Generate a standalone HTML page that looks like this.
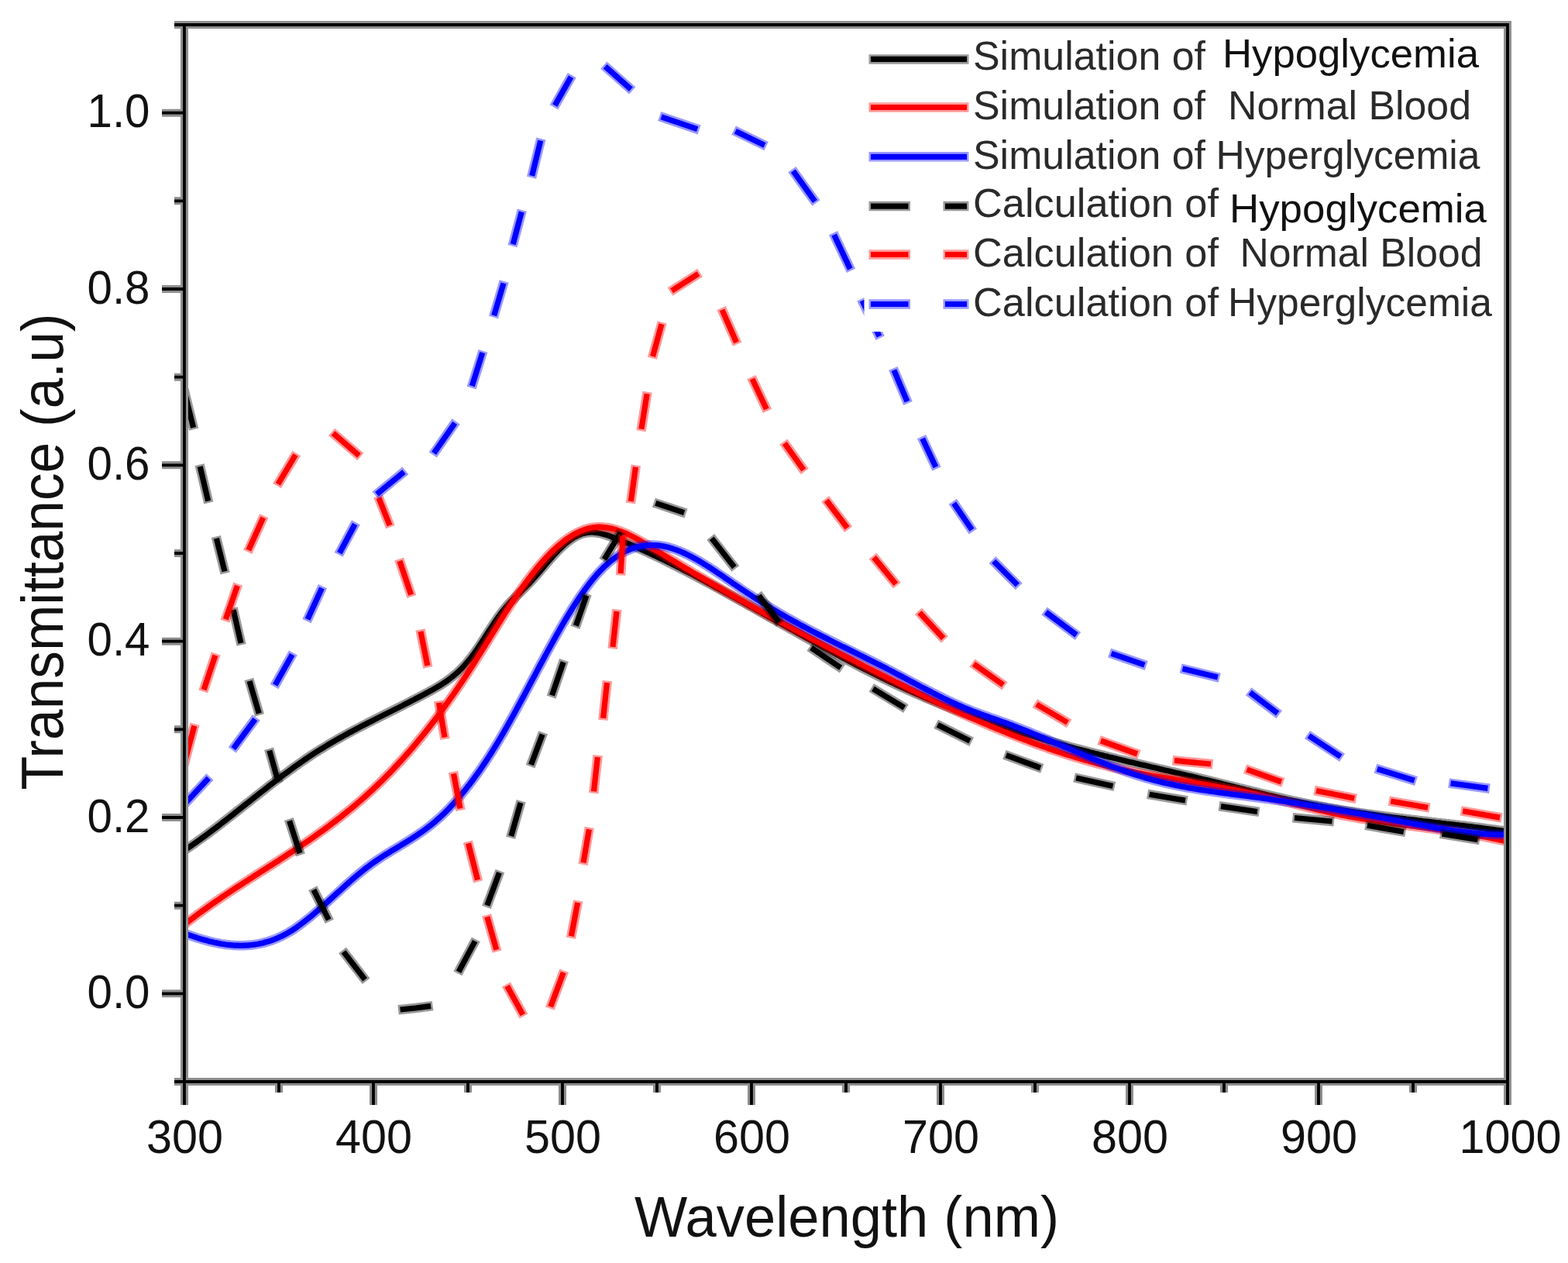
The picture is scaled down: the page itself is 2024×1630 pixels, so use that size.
<!DOCTYPE html><html><head><meta charset="utf-8"><title>Transmittance vs Wavelength</title><style>html,body{margin:0;padding:0;background:#fff;}svg{display:block;}text{font-family:"Liberation Sans",Arial,sans-serif;}</style></head><body>
<svg width="2024" height="1630" viewBox="0 0 2024 1630">
<rect width="2024" height="1630" fill="#fff"/>
<defs><clipPath id="pc"><rect x="238.0" y="32.0" width="1708.0" height="1364.0"/></clipPath></defs>
<g clip-path="url(#pc)" fill="none" stroke-linejoin="round" stroke-linecap="butt">
<path d="M237.5,1097.8 240.5,1095.8 243.5,1093.7 246.5,1091.7 249.5,1089.6 252.5,1087.5 255.5,1085.3 258.5,1083.2 261.5,1081.0 264.5,1078.8 267.5,1076.6 270.5,1074.4 273.5,1072.1 276.5,1069.9 279.5,1067.6 282.5,1065.3 285.5,1063.0 288.5,1060.6 291.5,1058.3 294.5,1056.0 297.5,1053.6 300.5,1051.3 303.5,1048.9 306.5,1046.5 309.5,1044.2 312.5,1041.8 315.5,1039.4 318.5,1037.0 321.5,1034.7 324.5,1032.3 327.5,1029.9 330.5,1027.5 333.5,1025.2 336.5,1022.8 339.5,1020.5 342.5,1018.1 345.5,1015.8 348.5,1013.4 351.5,1011.1 354.5,1008.8 357.5,1006.5 360.5,1004.2 363.5,1002.0 366.5,999.7 369.5,997.5 372.5,995.3 375.5,993.1 378.5,990.9 381.5,988.7 384.5,986.6 387.5,984.5 390.5,982.4 393.5,980.3 396.5,978.3 399.5,976.3 402.5,974.3 405.5,972.3 408.5,970.4 411.5,968.5 414.5,966.6 417.5,964.8 420.5,963.0 423.5,961.2 426.5,959.4 429.5,957.6 432.5,955.9 435.5,954.2 438.5,952.5 441.5,950.8 444.5,949.1 447.5,947.5 450.5,945.8 453.5,944.2 456.5,942.6 459.5,941.0 462.5,939.5 465.5,937.9 468.5,936.3 471.5,934.8 474.5,933.2 477.5,931.7 480.5,930.2 483.5,928.6 486.5,927.1 489.5,925.6 492.5,924.1 495.5,922.6 498.5,921.1 501.5,919.6 504.5,918.1 507.5,916.6 510.5,915.1 513.5,913.6 516.5,912.1 519.5,910.6 522.5,909.0 525.5,907.5 528.5,906.0 531.5,904.4 534.5,902.9 537.5,901.3 540.5,899.8 543.5,898.2 546.5,896.6 549.5,895.0 552.5,893.4 555.5,891.7 558.5,890.1 561.5,888.4 564.5,886.7 567.5,884.9 570.5,883.0 573.5,881.0 576.5,879.0 579.5,876.8 582.5,874.5 585.5,872.1 588.5,869.6 591.5,866.9 594.5,864.0 597.5,860.9 600.5,857.7 603.5,854.2 606.5,850.6 609.5,846.7 612.5,842.6 615.5,838.3 618.5,833.9 621.5,829.3 624.5,824.7 627.5,820.0 630.5,815.3 633.5,810.7 636.5,806.1 639.5,801.6 642.5,797.2 645.5,793.1 648.5,789.1 651.5,785.4 654.5,781.8 657.5,778.5 660.5,775.3 663.5,772.3 666.5,769.3 669.5,766.4 672.5,763.5 675.5,760.5 678.5,757.6 681.5,754.5 684.5,751.4 687.5,748.1 690.5,744.7 693.5,741.3 696.5,737.8 699.5,734.3 702.5,730.7 705.5,727.2 708.5,723.7 711.5,720.3 714.5,716.9 717.5,713.7 720.5,710.5 723.5,707.6 726.5,704.7 729.5,702.1 732.5,699.6 735.5,697.3 738.5,695.2 741.5,693.3 744.5,691.7 747.5,690.3 750.5,689.1 753.5,688.2 756.5,687.6 759.5,687.2 762.5,687.0 765.5,687.0 768.5,687.3 771.5,687.7 774.5,688.2 777.5,688.9 780.5,689.7 783.5,690.7 786.5,691.7 789.5,692.8 792.5,694.0 795.5,695.2 798.5,696.4 801.5,697.6 804.5,698.9 807.5,700.2 810.5,701.4 813.5,702.7 816.5,704.0 819.5,705.4 822.5,706.7 825.5,708.1 828.5,709.4 831.5,710.8 834.5,712.2 837.5,713.6 840.5,715.0 843.5,716.4 846.5,717.8 849.5,719.2 852.5,720.7 855.5,722.1 858.5,723.6 861.5,725.1 864.5,726.6 867.5,728.1 870.5,729.6 873.5,731.1 876.5,732.6 879.5,734.1 882.5,735.7 885.5,737.2 888.5,738.8 891.5,740.4 894.5,741.9 897.5,743.5 900.5,745.1 903.5,746.7 906.5,748.3 909.5,749.9 912.5,751.5 915.5,753.1 918.5,754.7 921.5,756.3 924.5,758.0 927.5,759.6 930.5,761.3 933.5,762.9 936.5,764.6 939.5,766.2 942.5,767.9 945.5,769.5 948.5,771.2 951.5,772.9 954.5,774.5 957.5,776.2 960.5,777.9 963.5,779.6 966.5,781.3 969.5,783.0 972.5,784.6 975.5,786.3 978.5,788.0 981.5,789.7 984.5,791.4 987.5,793.1 990.5,794.8 993.5,796.5 996.5,798.2 999.5,799.9 1002.5,801.6 1005.5,803.3 1008.5,805.0 1011.5,806.7 1014.5,808.4 1017.5,810.1 1020.5,811.8 1023.5,813.4 1026.5,815.1 1029.5,816.8 1032.5,818.5 1035.5,820.2 1038.5,821.9 1041.5,823.5 1044.5,825.2 1047.5,826.9 1050.5,828.5 1053.5,830.2 1056.5,831.9 1059.5,833.5 1062.5,835.2 1065.5,836.8 1068.5,838.4 1071.5,840.1 1074.5,841.7 1077.5,843.3 1080.5,845.0 1083.5,846.6 1086.5,848.2 1089.5,849.8 1092.5,851.4 1095.5,853.0 1098.5,854.5 1101.5,856.1 1104.5,857.7 1107.5,859.2 1110.5,860.8 1113.5,862.3 1116.5,863.9 1119.5,865.4 1122.5,866.9 1125.5,868.4 1128.5,869.9 1131.5,871.4 1134.5,872.9 1137.5,874.4 1140.5,875.8 1143.5,877.3 1146.5,878.7 1149.5,880.2 1152.5,881.6 1155.5,883.0 1158.5,884.4 1161.5,885.8 1164.5,887.2 1167.5,888.5 1170.5,889.9 1173.5,891.2 1176.5,892.6 1179.5,893.9 1182.5,895.2 1185.5,896.5 1188.5,897.8 1191.5,899.1 1194.5,900.4 1197.5,901.7 1200.5,902.9 1203.5,904.2 1206.5,905.4 1209.5,906.6 1212.5,907.9 1215.5,909.1 1218.5,910.3 1221.5,911.5 1224.5,912.7 1227.5,913.8 1230.5,915.0 1233.5,916.2 1236.5,917.3 1239.5,918.5 1242.5,919.6 1245.5,920.7 1248.5,921.8 1251.5,923.0 1254.5,924.1 1257.5,925.1 1260.5,926.2 1263.5,927.3 1266.5,928.4 1269.5,929.4 1272.5,930.5 1275.5,931.5 1278.5,932.6 1281.5,933.6 1284.5,934.6 1287.5,935.6 1290.5,936.6 1293.5,937.6 1296.5,938.6 1299.5,939.6 1302.5,940.6 1305.5,941.6 1308.5,942.5 1311.5,943.5 1314.5,944.4 1317.5,945.4 1320.5,946.3 1323.5,947.2 1326.5,948.2 1329.5,949.1 1332.5,950.0 1335.5,950.9 1338.5,951.8 1341.5,952.7 1344.5,953.6 1347.5,954.4 1350.5,955.3 1353.5,956.2 1356.5,957.0 1359.5,957.9 1362.5,958.8 1365.5,959.6 1368.5,960.4 1371.5,961.3 1374.5,962.1 1377.5,962.9 1380.5,963.7 1383.5,964.5 1386.5,965.4 1389.5,966.2 1392.5,966.9 1395.5,967.7 1398.5,968.5 1401.5,969.3 1404.5,970.1 1407.5,970.9 1410.5,971.6 1413.5,972.4 1416.5,973.1 1419.5,973.9 1422.5,974.6 1425.5,975.4 1428.5,976.1 1431.5,976.9 1434.5,977.6 1437.5,978.3 1440.5,979.1 1443.5,979.8 1446.5,980.5 1449.5,981.2 1452.5,981.9 1455.5,982.7 1458.5,983.4 1461.5,984.1 1464.5,984.8 1467.5,985.5 1470.5,986.2 1473.5,986.9 1476.5,987.6 1479.5,988.3 1482.5,989.0 1485.5,989.7 1488.5,990.4 1491.5,991.1 1494.5,991.8 1497.5,992.5 1500.5,993.2 1503.5,993.9 1506.5,994.6 1509.5,995.3 1512.5,996.0 1515.5,996.7 1518.5,997.4 1521.5,998.1 1524.5,998.8 1527.5,999.5 1530.5,1000.2 1533.5,1000.9 1536.5,1001.6 1539.5,1002.3 1542.5,1003.0 1545.5,1003.7 1548.5,1004.4 1551.5,1005.2 1554.5,1005.9 1557.5,1006.6 1560.5,1007.3 1563.5,1008.1 1566.5,1008.8 1569.5,1009.6 1572.5,1010.3 1575.5,1011.0 1578.5,1011.8 1581.5,1012.5 1584.5,1013.3 1587.5,1014.0 1590.5,1014.7 1593.5,1015.5 1596.5,1016.2 1599.5,1017.0 1602.5,1017.7 1605.5,1018.4 1608.5,1019.2 1611.5,1019.9 1614.5,1020.7 1617.5,1021.4 1620.5,1022.1 1623.5,1022.8 1626.5,1023.6 1629.5,1024.3 1632.5,1025.0 1635.5,1025.7 1638.5,1026.4 1641.5,1027.1 1644.5,1027.8 1647.5,1028.5 1650.5,1029.2 1653.5,1029.9 1656.5,1030.6 1659.5,1031.3 1662.5,1032.0 1665.5,1032.6 1668.5,1033.3 1671.5,1033.9 1674.5,1034.6 1677.5,1035.2 1680.5,1035.9 1683.5,1036.5 1686.5,1037.1 1689.5,1037.7 1692.5,1038.3 1695.5,1038.9 1698.5,1039.5 1701.5,1040.1 1704.5,1040.6 1707.5,1041.2 1710.5,1041.7 1713.5,1042.3 1716.5,1042.8 1719.5,1043.3 1722.5,1043.9 1725.5,1044.4 1728.5,1044.9 1731.5,1045.4 1734.5,1045.9 1737.5,1046.3 1740.5,1046.8 1743.5,1047.3 1746.5,1047.7 1749.5,1048.2 1752.5,1048.6 1755.5,1049.1 1758.5,1049.5 1761.5,1049.9 1764.5,1050.4 1767.5,1050.8 1770.5,1051.2 1773.5,1051.6 1776.5,1052.0 1779.5,1052.4 1782.5,1052.8 1785.5,1053.2 1788.5,1053.6 1791.5,1054.0 1794.5,1054.4 1797.5,1054.8 1800.5,1055.1 1803.5,1055.5 1806.5,1055.9 1809.5,1056.2 1812.5,1056.6 1815.5,1057.0 1818.5,1057.3 1821.5,1057.7 1824.5,1058.0 1827.5,1058.4 1830.5,1058.8 1833.5,1059.1 1836.5,1059.5 1839.5,1059.8 1842.5,1060.2 1845.5,1060.5 1848.5,1060.9 1851.5,1061.2 1854.5,1061.6 1857.5,1061.9 1860.5,1062.3 1863.5,1062.6 1866.5,1063.0 1869.5,1063.3 1872.5,1063.7 1875.5,1064.0 1878.5,1064.4 1881.5,1064.7 1884.5,1065.1 1887.5,1065.4 1890.5,1065.8 1893.5,1066.2 1896.5,1066.5 1899.5,1066.9 1902.5,1067.3 1905.5,1067.6 1908.5,1068.0 1911.5,1068.4 1914.5,1068.8 1917.5,1069.2 1920.5,1069.6 1923.5,1070.0 1926.5,1070.4 1929.5,1070.8 1932.5,1071.2 1935.5,1071.6 1938.5,1072.0 1941.5,1072.5 1944.5,1072.9 1946.5,1073.2" stroke="#000" stroke-width="12.5" stroke-opacity="0.40"/>
<path d="M237.5,1097.8 240.5,1095.8 243.5,1093.7 246.5,1091.7 249.5,1089.6 252.5,1087.5 255.5,1085.3 258.5,1083.2 261.5,1081.0 264.5,1078.8 267.5,1076.6 270.5,1074.4 273.5,1072.1 276.5,1069.9 279.5,1067.6 282.5,1065.3 285.5,1063.0 288.5,1060.6 291.5,1058.3 294.5,1056.0 297.5,1053.6 300.5,1051.3 303.5,1048.9 306.5,1046.5 309.5,1044.2 312.5,1041.8 315.5,1039.4 318.5,1037.0 321.5,1034.7 324.5,1032.3 327.5,1029.9 330.5,1027.5 333.5,1025.2 336.5,1022.8 339.5,1020.5 342.5,1018.1 345.5,1015.8 348.5,1013.4 351.5,1011.1 354.5,1008.8 357.5,1006.5 360.5,1004.2 363.5,1002.0 366.5,999.7 369.5,997.5 372.5,995.3 375.5,993.1 378.5,990.9 381.5,988.7 384.5,986.6 387.5,984.5 390.5,982.4 393.5,980.3 396.5,978.3 399.5,976.3 402.5,974.3 405.5,972.3 408.5,970.4 411.5,968.5 414.5,966.6 417.5,964.8 420.5,963.0 423.5,961.2 426.5,959.4 429.5,957.6 432.5,955.9 435.5,954.2 438.5,952.5 441.5,950.8 444.5,949.1 447.5,947.5 450.5,945.8 453.5,944.2 456.5,942.6 459.5,941.0 462.5,939.5 465.5,937.9 468.5,936.3 471.5,934.8 474.5,933.2 477.5,931.7 480.5,930.2 483.5,928.6 486.5,927.1 489.5,925.6 492.5,924.1 495.5,922.6 498.5,921.1 501.5,919.6 504.5,918.1 507.5,916.6 510.5,915.1 513.5,913.6 516.5,912.1 519.5,910.6 522.5,909.0 525.5,907.5 528.5,906.0 531.5,904.4 534.5,902.9 537.5,901.3 540.5,899.8 543.5,898.2 546.5,896.6 549.5,895.0 552.5,893.4 555.5,891.7 558.5,890.1 561.5,888.4 564.5,886.7 567.5,884.9 570.5,883.0 573.5,881.0 576.5,879.0 579.5,876.8 582.5,874.5 585.5,872.1 588.5,869.6 591.5,866.9 594.5,864.0 597.5,860.9 600.5,857.7 603.5,854.2 606.5,850.6 609.5,846.7 612.5,842.6 615.5,838.3 618.5,833.9 621.5,829.3 624.5,824.7 627.5,820.0 630.5,815.3 633.5,810.7 636.5,806.1 639.5,801.6 642.5,797.2 645.5,793.1 648.5,789.1 651.5,785.4 654.5,781.8 657.5,778.5 660.5,775.3 663.5,772.3 666.5,769.3 669.5,766.4 672.5,763.5 675.5,760.5 678.5,757.6 681.5,754.5 684.5,751.4 687.5,748.1 690.5,744.7 693.5,741.3 696.5,737.8 699.5,734.3 702.5,730.7 705.5,727.2 708.5,723.7 711.5,720.3 714.5,716.9 717.5,713.7 720.5,710.5 723.5,707.6 726.5,704.7 729.5,702.1 732.5,699.6 735.5,697.3 738.5,695.2 741.5,693.3 744.5,691.7 747.5,690.3 750.5,689.1 753.5,688.2 756.5,687.6 759.5,687.2 762.5,687.0 765.5,687.0 768.5,687.3 771.5,687.7 774.5,688.2 777.5,688.9 780.5,689.7 783.5,690.7 786.5,691.7 789.5,692.8 792.5,694.0 795.5,695.2 798.5,696.4 801.5,697.6 804.5,698.9 807.5,700.2 810.5,701.4 813.5,702.7 816.5,704.0 819.5,705.4 822.5,706.7 825.5,708.1 828.5,709.4 831.5,710.8 834.5,712.2 837.5,713.6 840.5,715.0 843.5,716.4 846.5,717.8 849.5,719.2 852.5,720.7 855.5,722.1 858.5,723.6 861.5,725.1 864.5,726.6 867.5,728.1 870.5,729.6 873.5,731.1 876.5,732.6 879.5,734.1 882.5,735.7 885.5,737.2 888.5,738.8 891.5,740.4 894.5,741.9 897.5,743.5 900.5,745.1 903.5,746.7 906.5,748.3 909.5,749.9 912.5,751.5 915.5,753.1 918.5,754.7 921.5,756.3 924.5,758.0 927.5,759.6 930.5,761.3 933.5,762.9 936.5,764.6 939.5,766.2 942.5,767.9 945.5,769.5 948.5,771.2 951.5,772.9 954.5,774.5 957.5,776.2 960.5,777.9 963.5,779.6 966.5,781.3 969.5,783.0 972.5,784.6 975.5,786.3 978.5,788.0 981.5,789.7 984.5,791.4 987.5,793.1 990.5,794.8 993.5,796.5 996.5,798.2 999.5,799.9 1002.5,801.6 1005.5,803.3 1008.5,805.0 1011.5,806.7 1014.5,808.4 1017.5,810.1 1020.5,811.8 1023.5,813.4 1026.5,815.1 1029.5,816.8 1032.5,818.5 1035.5,820.2 1038.5,821.9 1041.5,823.5 1044.5,825.2 1047.5,826.9 1050.5,828.5 1053.5,830.2 1056.5,831.9 1059.5,833.5 1062.5,835.2 1065.5,836.8 1068.5,838.4 1071.5,840.1 1074.5,841.7 1077.5,843.3 1080.5,845.0 1083.5,846.6 1086.5,848.2 1089.5,849.8 1092.5,851.4 1095.5,853.0 1098.5,854.5 1101.5,856.1 1104.5,857.7 1107.5,859.2 1110.5,860.8 1113.5,862.3 1116.5,863.9 1119.5,865.4 1122.5,866.9 1125.5,868.4 1128.5,869.9 1131.5,871.4 1134.5,872.9 1137.5,874.4 1140.5,875.8 1143.5,877.3 1146.5,878.7 1149.5,880.2 1152.5,881.6 1155.5,883.0 1158.5,884.4 1161.5,885.8 1164.5,887.2 1167.5,888.5 1170.5,889.9 1173.5,891.2 1176.5,892.6 1179.5,893.9 1182.5,895.2 1185.5,896.5 1188.5,897.8 1191.5,899.1 1194.5,900.4 1197.5,901.7 1200.5,902.9 1203.5,904.2 1206.5,905.4 1209.5,906.6 1212.5,907.9 1215.5,909.1 1218.5,910.3 1221.5,911.5 1224.5,912.7 1227.5,913.8 1230.5,915.0 1233.5,916.2 1236.5,917.3 1239.5,918.5 1242.5,919.6 1245.5,920.7 1248.5,921.8 1251.5,923.0 1254.5,924.1 1257.5,925.1 1260.5,926.2 1263.5,927.3 1266.5,928.4 1269.5,929.4 1272.5,930.5 1275.5,931.5 1278.5,932.6 1281.5,933.6 1284.5,934.6 1287.5,935.6 1290.5,936.6 1293.5,937.6 1296.5,938.6 1299.5,939.6 1302.5,940.6 1305.5,941.6 1308.5,942.5 1311.5,943.5 1314.5,944.4 1317.5,945.4 1320.5,946.3 1323.5,947.2 1326.5,948.2 1329.5,949.1 1332.5,950.0 1335.5,950.9 1338.5,951.8 1341.5,952.7 1344.5,953.6 1347.5,954.4 1350.5,955.3 1353.5,956.2 1356.5,957.0 1359.5,957.9 1362.5,958.8 1365.5,959.6 1368.5,960.4 1371.5,961.3 1374.5,962.1 1377.5,962.9 1380.5,963.7 1383.5,964.5 1386.5,965.4 1389.5,966.2 1392.5,966.9 1395.5,967.7 1398.5,968.5 1401.5,969.3 1404.5,970.1 1407.5,970.9 1410.5,971.6 1413.5,972.4 1416.5,973.1 1419.5,973.9 1422.5,974.6 1425.5,975.4 1428.5,976.1 1431.5,976.9 1434.5,977.6 1437.5,978.3 1440.5,979.1 1443.5,979.8 1446.5,980.5 1449.5,981.2 1452.5,981.9 1455.5,982.7 1458.5,983.4 1461.5,984.1 1464.5,984.8 1467.5,985.5 1470.5,986.2 1473.5,986.9 1476.5,987.6 1479.5,988.3 1482.5,989.0 1485.5,989.7 1488.5,990.4 1491.5,991.1 1494.5,991.8 1497.5,992.5 1500.5,993.2 1503.5,993.9 1506.5,994.6 1509.5,995.3 1512.5,996.0 1515.5,996.7 1518.5,997.4 1521.5,998.1 1524.5,998.8 1527.5,999.5 1530.5,1000.2 1533.5,1000.9 1536.5,1001.6 1539.5,1002.3 1542.5,1003.0 1545.5,1003.7 1548.5,1004.4 1551.5,1005.2 1554.5,1005.9 1557.5,1006.6 1560.5,1007.3 1563.5,1008.1 1566.5,1008.8 1569.5,1009.6 1572.5,1010.3 1575.5,1011.0 1578.5,1011.8 1581.5,1012.5 1584.5,1013.3 1587.5,1014.0 1590.5,1014.7 1593.5,1015.5 1596.5,1016.2 1599.5,1017.0 1602.5,1017.7 1605.5,1018.4 1608.5,1019.2 1611.5,1019.9 1614.5,1020.7 1617.5,1021.4 1620.5,1022.1 1623.5,1022.8 1626.5,1023.6 1629.5,1024.3 1632.5,1025.0 1635.5,1025.7 1638.5,1026.4 1641.5,1027.1 1644.5,1027.8 1647.5,1028.5 1650.5,1029.2 1653.5,1029.9 1656.5,1030.6 1659.5,1031.3 1662.5,1032.0 1665.5,1032.6 1668.5,1033.3 1671.5,1033.9 1674.5,1034.6 1677.5,1035.2 1680.5,1035.9 1683.5,1036.5 1686.5,1037.1 1689.5,1037.7 1692.5,1038.3 1695.5,1038.9 1698.5,1039.5 1701.5,1040.1 1704.5,1040.6 1707.5,1041.2 1710.5,1041.7 1713.5,1042.3 1716.5,1042.8 1719.5,1043.3 1722.5,1043.9 1725.5,1044.4 1728.5,1044.9 1731.5,1045.4 1734.5,1045.9 1737.5,1046.3 1740.5,1046.8 1743.5,1047.3 1746.5,1047.7 1749.5,1048.2 1752.5,1048.6 1755.5,1049.1 1758.5,1049.5 1761.5,1049.9 1764.5,1050.4 1767.5,1050.8 1770.5,1051.2 1773.5,1051.6 1776.5,1052.0 1779.5,1052.4 1782.5,1052.8 1785.5,1053.2 1788.5,1053.6 1791.5,1054.0 1794.5,1054.4 1797.5,1054.8 1800.5,1055.1 1803.5,1055.5 1806.5,1055.9 1809.5,1056.2 1812.5,1056.6 1815.5,1057.0 1818.5,1057.3 1821.5,1057.7 1824.5,1058.0 1827.5,1058.4 1830.5,1058.8 1833.5,1059.1 1836.5,1059.5 1839.5,1059.8 1842.5,1060.2 1845.5,1060.5 1848.5,1060.9 1851.5,1061.2 1854.5,1061.6 1857.5,1061.9 1860.5,1062.3 1863.5,1062.6 1866.5,1063.0 1869.5,1063.3 1872.5,1063.7 1875.5,1064.0 1878.5,1064.4 1881.5,1064.7 1884.5,1065.1 1887.5,1065.4 1890.5,1065.8 1893.5,1066.2 1896.5,1066.5 1899.5,1066.9 1902.5,1067.3 1905.5,1067.6 1908.5,1068.0 1911.5,1068.4 1914.5,1068.8 1917.5,1069.2 1920.5,1069.6 1923.5,1070.0 1926.5,1070.4 1929.5,1070.8 1932.5,1071.2 1935.5,1071.6 1938.5,1072.0 1941.5,1072.5 1944.5,1072.9 1946.5,1073.2" stroke="#000" stroke-width="7.2"/>
<path d="M237.5,1193.6 240.5,1191.3 243.5,1188.9 246.5,1186.6 249.5,1184.4 252.5,1182.1 255.5,1179.9 258.5,1177.7 261.5,1175.5 264.5,1173.3 267.5,1171.2 270.5,1169.0 273.5,1166.9 276.5,1164.8 279.5,1162.7 282.5,1160.7 285.5,1158.6 288.5,1156.6 291.5,1154.6 294.5,1152.6 297.5,1150.6 300.5,1148.6 303.5,1146.6 306.5,1144.6 309.5,1142.7 312.5,1140.7 315.5,1138.8 318.5,1136.9 321.5,1134.9 324.5,1133.0 327.5,1131.1 330.5,1129.1 333.5,1127.2 336.5,1125.3 339.5,1123.4 342.5,1121.5 345.5,1119.6 348.5,1117.6 351.5,1115.7 354.5,1113.8 357.5,1111.9 360.5,1109.9 363.5,1108.0 366.5,1106.0 369.5,1104.1 372.5,1102.1 375.5,1100.1 378.5,1098.2 381.5,1096.2 384.5,1094.2 387.5,1092.2 390.5,1090.1 393.5,1088.1 396.5,1086.0 399.5,1084.0 402.5,1081.9 405.5,1079.8 408.5,1077.6 411.5,1075.5 414.5,1073.3 417.5,1071.2 420.5,1069.0 423.5,1066.8 426.5,1064.5 429.5,1062.2 432.5,1060.0 435.5,1057.6 438.5,1055.3 441.5,1052.9 444.5,1050.5 447.5,1048.1 450.5,1045.7 453.5,1043.2 456.5,1040.7 459.5,1038.2 462.5,1035.6 465.5,1033.0 468.5,1030.4 471.5,1027.7 474.5,1025.0 477.5,1022.2 480.5,1019.5 483.5,1016.7 486.5,1013.8 489.5,1010.9 492.5,1008.0 495.5,1005.0 498.5,1002.0 501.5,999.0 504.5,995.9 507.5,992.7 510.5,989.5 513.5,986.3 516.5,983.0 519.5,979.7 522.5,976.4 525.5,973.0 528.5,969.5 531.5,966.1 534.5,962.5 537.5,959.0 540.5,955.3 543.5,951.7 546.5,948.0 549.5,944.2 552.5,940.4 555.5,936.6 558.5,932.7 561.5,928.8 564.5,924.8 567.5,920.8 570.5,916.7 573.5,912.6 576.5,908.4 579.5,904.2 582.5,900.0 585.5,895.7 588.5,891.4 591.5,887.0 594.5,882.5 597.5,878.1 600.5,873.5 603.5,869.0 606.5,864.3 609.5,859.7 612.5,855.0 615.5,850.2 618.5,845.4 621.5,840.6 624.5,835.8 627.5,830.9 630.5,826.0 633.5,821.2 636.5,816.3 639.5,811.4 642.5,806.6 645.5,801.8 648.5,797.0 651.5,792.2 654.5,787.5 657.5,782.8 660.5,778.2 663.5,773.7 666.5,769.2 669.5,764.8 672.5,760.5 675.5,756.3 678.5,752.1 681.5,748.1 684.5,744.1 687.5,740.2 690.5,736.4 693.5,732.7 696.5,729.2 699.5,725.7 702.5,722.3 705.5,719.0 708.5,715.9 711.5,712.8 714.5,709.9 717.5,707.1 720.5,704.4 723.5,701.9 726.5,699.5 729.5,697.2 732.5,695.0 735.5,693.0 738.5,691.1 741.5,689.4 744.5,687.7 747.5,686.3 750.5,685.0 753.5,683.8 756.5,682.8 759.5,682.0 762.5,681.3 765.5,680.8 768.5,680.4 771.5,680.2 774.5,680.2 777.5,680.3 780.5,680.6 783.5,681.0 786.5,681.5 789.5,682.1 792.5,682.9 795.5,683.8 798.5,684.8 801.5,685.8 804.5,687.0 807.5,688.3 810.5,689.6 813.5,691.1 816.5,692.6 819.5,694.1 822.5,695.7 825.5,697.4 828.5,699.1 831.5,700.8 834.5,702.6 837.5,704.4 840.5,706.3 843.5,708.1 846.5,710.0 849.5,711.8 852.5,713.7 855.5,715.5 858.5,717.3 861.5,719.2 864.5,721.0 867.5,722.8 870.5,724.6 873.5,726.4 876.5,728.2 879.5,730.0 882.5,731.8 885.5,733.6 888.5,735.4 891.5,737.2 894.5,739.0 897.5,740.8 900.5,742.5 903.5,744.3 906.5,746.0 909.5,747.8 912.5,749.5 915.5,751.3 918.5,753.0 921.5,754.8 924.5,756.5 927.5,758.2 930.5,759.9 933.5,761.6 936.5,763.4 939.5,765.1 942.5,766.8 945.5,768.5 948.5,770.2 951.5,771.9 954.5,773.6 957.5,775.2 960.5,776.9 963.5,778.6 966.5,780.3 969.5,781.9 972.5,783.6 975.5,785.3 978.5,786.9 981.5,788.6 984.5,790.2 987.5,791.9 990.5,793.5 993.5,795.2 996.5,796.8 999.5,798.4 1002.5,800.1 1005.5,801.7 1008.5,803.3 1011.5,804.9 1014.5,806.6 1017.5,808.2 1020.5,809.8 1023.5,811.4 1026.5,813.0 1029.5,814.6 1032.5,816.2 1035.5,817.8 1038.5,819.4 1041.5,821.0 1044.5,822.6 1047.5,824.2 1050.5,825.8 1053.5,827.4 1056.5,828.9 1059.5,830.5 1062.5,832.1 1065.5,833.7 1068.5,835.2 1071.5,836.8 1074.5,838.4 1077.5,839.9 1080.5,841.5 1083.5,843.1 1086.5,844.6 1089.5,846.2 1092.5,847.7 1095.5,849.3 1098.5,850.8 1101.5,852.4 1104.5,853.9 1107.5,855.5 1110.5,857.0 1113.5,858.6 1116.5,860.1 1119.5,861.6 1122.5,863.2 1125.5,864.7 1128.5,866.2 1131.5,867.8 1134.5,869.3 1137.5,870.8 1140.5,872.3 1143.5,873.8 1146.5,875.3 1149.5,876.8 1152.5,878.4 1155.5,879.9 1158.5,881.3 1161.5,882.8 1164.5,884.3 1167.5,885.8 1170.5,887.3 1173.5,888.8 1176.5,890.2 1179.5,891.7 1182.5,893.2 1185.5,894.6 1188.5,896.1 1191.5,897.5 1194.5,899.0 1197.5,900.4 1200.5,901.9 1203.5,903.3 1206.5,904.7 1209.5,906.1 1212.5,907.5 1215.5,909.0 1218.5,910.4 1221.5,911.8 1224.5,913.1 1227.5,914.5 1230.5,915.9 1233.5,917.3 1236.5,918.6 1239.5,920.0 1242.5,921.4 1245.5,922.7 1248.5,924.0 1251.5,925.4 1254.5,926.7 1257.5,928.0 1260.5,929.3 1263.5,930.6 1266.5,931.9 1269.5,933.2 1272.5,934.5 1275.5,935.8 1278.5,937.1 1281.5,938.3 1284.5,939.6 1287.5,940.8 1290.5,942.0 1293.5,943.3 1296.5,944.5 1299.5,945.7 1302.5,946.9 1305.5,948.1 1308.5,949.3 1311.5,950.5 1314.5,951.6 1317.5,952.8 1320.5,953.9 1323.5,955.1 1326.5,956.2 1329.5,957.3 1332.5,958.5 1335.5,959.6 1338.5,960.7 1341.5,961.7 1344.5,962.8 1347.5,963.9 1350.5,964.9 1353.5,966.0 1356.5,967.0 1359.5,968.0 1362.5,969.0 1365.5,970.1 1368.5,971.0 1371.5,972.0 1374.5,973.0 1377.5,974.0 1380.5,974.9 1383.5,975.8 1386.5,976.8 1389.5,977.7 1392.5,978.6 1395.5,979.5 1398.5,980.4 1401.5,981.2 1404.5,982.1 1407.5,982.9 1410.5,983.8 1413.5,984.6 1416.5,985.4 1419.5,986.2 1422.5,987.0 1425.5,987.7 1428.5,988.5 1431.5,989.2 1434.5,990.0 1437.5,990.7 1440.5,991.4 1443.5,992.1 1446.5,992.8 1449.5,993.4 1452.5,994.1 1455.5,994.7 1458.5,995.4 1461.5,996.0 1464.5,996.6 1467.5,997.2 1470.5,997.8 1473.5,998.4 1476.5,999.0 1479.5,999.6 1482.5,1000.1 1485.5,1000.7 1488.5,1001.2 1491.5,1001.8 1494.5,1002.3 1497.5,1002.8 1500.5,1003.4 1503.5,1003.9 1506.5,1004.4 1509.5,1004.9 1512.5,1005.4 1515.5,1005.9 1518.5,1006.4 1521.5,1006.9 1524.5,1007.4 1527.5,1007.9 1530.5,1008.4 1533.5,1008.9 1536.5,1009.4 1539.5,1009.9 1542.5,1010.4 1545.5,1010.9 1548.5,1011.4 1551.5,1011.9 1554.5,1012.4 1557.5,1012.9 1560.5,1013.4 1563.5,1014.0 1566.5,1014.5 1569.5,1015.0 1572.5,1015.5 1575.5,1016.1 1578.5,1016.6 1581.5,1017.2 1584.5,1017.7 1587.5,1018.3 1590.5,1018.8 1593.5,1019.4 1596.5,1020.0 1599.5,1020.6 1602.5,1021.2 1605.5,1021.8 1608.5,1022.4 1611.5,1023.1 1614.5,1023.7 1617.5,1024.4 1620.5,1025.0 1623.5,1025.7 1626.5,1026.4 1629.5,1027.1 1632.5,1027.8 1635.5,1028.5 1638.5,1029.3 1641.5,1030.0 1644.5,1030.8 1647.5,1031.5 1650.5,1032.3 1653.5,1033.0 1656.5,1033.8 1659.5,1034.6 1662.5,1035.3 1665.5,1036.1 1668.5,1036.9 1671.5,1037.7 1674.5,1038.4 1677.5,1039.2 1680.5,1040.0 1683.5,1040.7 1686.5,1041.5 1689.5,1042.3 1692.5,1043.0 1695.5,1043.7 1698.5,1044.5 1701.5,1045.2 1704.5,1045.9 1707.5,1046.6 1710.5,1047.3 1713.5,1048.0 1716.5,1048.7 1719.5,1049.4 1722.5,1050.0 1725.5,1050.6 1728.5,1051.3 1731.5,1051.9 1734.5,1052.5 1737.5,1053.0 1740.5,1053.6 1743.5,1054.2 1746.5,1054.7 1749.5,1055.2 1752.5,1055.8 1755.5,1056.3 1758.5,1056.8 1761.5,1057.3 1764.5,1057.8 1767.5,1058.3 1770.5,1058.7 1773.5,1059.2 1776.5,1059.7 1779.5,1060.1 1782.5,1060.5 1785.5,1061.0 1788.5,1061.4 1791.5,1061.8 1794.5,1062.3 1797.5,1062.7 1800.5,1063.1 1803.5,1063.5 1806.5,1063.9 1809.5,1064.3 1812.5,1064.7 1815.5,1065.1 1818.5,1065.5 1821.5,1065.9 1824.5,1066.3 1827.5,1066.7 1830.5,1067.1 1833.5,1067.5 1836.5,1067.9 1839.5,1068.3 1842.5,1068.7 1845.5,1069.1 1848.5,1069.5 1851.5,1069.9 1854.5,1070.3 1857.5,1070.7 1860.5,1071.1 1863.5,1071.6 1866.5,1072.0 1869.5,1072.4 1872.5,1072.8 1875.5,1073.3 1878.5,1073.7 1881.5,1074.2 1884.5,1074.6 1887.5,1075.1 1890.5,1075.6 1893.5,1076.1 1896.5,1076.5 1899.5,1077.0 1902.5,1077.6 1905.5,1078.1 1908.5,1078.6 1911.5,1079.1 1914.5,1079.7 1917.5,1080.2 1920.5,1080.8 1923.5,1081.4 1926.5,1082.0 1929.5,1082.6 1932.5,1083.2 1935.5,1083.9 1938.5,1084.5 1941.5,1085.2 1944.5,1085.9 1946.5,1086.3" stroke="#f00" stroke-width="12.5" stroke-opacity="0.40"/>
<path d="M237.5,1193.6 240.5,1191.3 243.5,1188.9 246.5,1186.6 249.5,1184.4 252.5,1182.1 255.5,1179.9 258.5,1177.7 261.5,1175.5 264.5,1173.3 267.5,1171.2 270.5,1169.0 273.5,1166.9 276.5,1164.8 279.5,1162.7 282.5,1160.7 285.5,1158.6 288.5,1156.6 291.5,1154.6 294.5,1152.6 297.5,1150.6 300.5,1148.6 303.5,1146.6 306.5,1144.6 309.5,1142.7 312.5,1140.7 315.5,1138.8 318.5,1136.9 321.5,1134.9 324.5,1133.0 327.5,1131.1 330.5,1129.1 333.5,1127.2 336.5,1125.3 339.5,1123.4 342.5,1121.5 345.5,1119.6 348.5,1117.6 351.5,1115.7 354.5,1113.8 357.5,1111.9 360.5,1109.9 363.5,1108.0 366.5,1106.0 369.5,1104.1 372.5,1102.1 375.5,1100.1 378.5,1098.2 381.5,1096.2 384.5,1094.2 387.5,1092.2 390.5,1090.1 393.5,1088.1 396.5,1086.0 399.5,1084.0 402.5,1081.9 405.5,1079.8 408.5,1077.6 411.5,1075.5 414.5,1073.3 417.5,1071.2 420.5,1069.0 423.5,1066.8 426.5,1064.5 429.5,1062.2 432.5,1060.0 435.5,1057.6 438.5,1055.3 441.5,1052.9 444.5,1050.5 447.5,1048.1 450.5,1045.7 453.5,1043.2 456.5,1040.7 459.5,1038.2 462.5,1035.6 465.5,1033.0 468.5,1030.4 471.5,1027.7 474.5,1025.0 477.5,1022.2 480.5,1019.5 483.5,1016.7 486.5,1013.8 489.5,1010.9 492.5,1008.0 495.5,1005.0 498.5,1002.0 501.5,999.0 504.5,995.9 507.5,992.7 510.5,989.5 513.5,986.3 516.5,983.0 519.5,979.7 522.5,976.4 525.5,973.0 528.5,969.5 531.5,966.1 534.5,962.5 537.5,959.0 540.5,955.3 543.5,951.7 546.5,948.0 549.5,944.2 552.5,940.4 555.5,936.6 558.5,932.7 561.5,928.8 564.5,924.8 567.5,920.8 570.5,916.7 573.5,912.6 576.5,908.4 579.5,904.2 582.5,900.0 585.5,895.7 588.5,891.4 591.5,887.0 594.5,882.5 597.5,878.1 600.5,873.5 603.5,869.0 606.5,864.3 609.5,859.7 612.5,855.0 615.5,850.2 618.5,845.4 621.5,840.6 624.5,835.8 627.5,830.9 630.5,826.0 633.5,821.2 636.5,816.3 639.5,811.4 642.5,806.6 645.5,801.8 648.5,797.0 651.5,792.2 654.5,787.5 657.5,782.8 660.5,778.2 663.5,773.7 666.5,769.2 669.5,764.8 672.5,760.5 675.5,756.3 678.5,752.1 681.5,748.1 684.5,744.1 687.5,740.2 690.5,736.4 693.5,732.7 696.5,729.2 699.5,725.7 702.5,722.3 705.5,719.0 708.5,715.9 711.5,712.8 714.5,709.9 717.5,707.1 720.5,704.4 723.5,701.9 726.5,699.5 729.5,697.2 732.5,695.0 735.5,693.0 738.5,691.1 741.5,689.4 744.5,687.7 747.5,686.3 750.5,685.0 753.5,683.8 756.5,682.8 759.5,682.0 762.5,681.3 765.5,680.8 768.5,680.4 771.5,680.2 774.5,680.2 777.5,680.3 780.5,680.6 783.5,681.0 786.5,681.5 789.5,682.1 792.5,682.9 795.5,683.8 798.5,684.8 801.5,685.8 804.5,687.0 807.5,688.3 810.5,689.6 813.5,691.1 816.5,692.6 819.5,694.1 822.5,695.7 825.5,697.4 828.5,699.1 831.5,700.8 834.5,702.6 837.5,704.4 840.5,706.3 843.5,708.1 846.5,710.0 849.5,711.8 852.5,713.7 855.5,715.5 858.5,717.3 861.5,719.2 864.5,721.0 867.5,722.8 870.5,724.6 873.5,726.4 876.5,728.2 879.5,730.0 882.5,731.8 885.5,733.6 888.5,735.4 891.5,737.2 894.5,739.0 897.5,740.8 900.5,742.5 903.5,744.3 906.5,746.0 909.5,747.8 912.5,749.5 915.5,751.3 918.5,753.0 921.5,754.8 924.5,756.5 927.5,758.2 930.5,759.9 933.5,761.6 936.5,763.4 939.5,765.1 942.5,766.8 945.5,768.5 948.5,770.2 951.5,771.9 954.5,773.6 957.5,775.2 960.5,776.9 963.5,778.6 966.5,780.3 969.5,781.9 972.5,783.6 975.5,785.3 978.5,786.9 981.5,788.6 984.5,790.2 987.5,791.9 990.5,793.5 993.5,795.2 996.5,796.8 999.5,798.4 1002.5,800.1 1005.5,801.7 1008.5,803.3 1011.5,804.9 1014.5,806.6 1017.5,808.2 1020.5,809.8 1023.5,811.4 1026.5,813.0 1029.5,814.6 1032.5,816.2 1035.5,817.8 1038.5,819.4 1041.5,821.0 1044.5,822.6 1047.5,824.2 1050.5,825.8 1053.5,827.4 1056.5,828.9 1059.5,830.5 1062.5,832.1 1065.5,833.7 1068.5,835.2 1071.5,836.8 1074.5,838.4 1077.5,839.9 1080.5,841.5 1083.5,843.1 1086.5,844.6 1089.5,846.2 1092.5,847.7 1095.5,849.3 1098.5,850.8 1101.5,852.4 1104.5,853.9 1107.5,855.5 1110.5,857.0 1113.5,858.6 1116.5,860.1 1119.5,861.6 1122.5,863.2 1125.5,864.7 1128.5,866.2 1131.5,867.8 1134.5,869.3 1137.5,870.8 1140.5,872.3 1143.5,873.8 1146.5,875.3 1149.5,876.8 1152.5,878.4 1155.5,879.9 1158.5,881.3 1161.5,882.8 1164.5,884.3 1167.5,885.8 1170.5,887.3 1173.5,888.8 1176.5,890.2 1179.5,891.7 1182.5,893.2 1185.5,894.6 1188.5,896.1 1191.5,897.5 1194.5,899.0 1197.5,900.4 1200.5,901.9 1203.5,903.3 1206.5,904.7 1209.5,906.1 1212.5,907.5 1215.5,909.0 1218.5,910.4 1221.5,911.8 1224.5,913.1 1227.5,914.5 1230.5,915.9 1233.5,917.3 1236.5,918.6 1239.5,920.0 1242.5,921.4 1245.5,922.7 1248.5,924.0 1251.5,925.4 1254.5,926.7 1257.5,928.0 1260.5,929.3 1263.5,930.6 1266.5,931.9 1269.5,933.2 1272.5,934.5 1275.5,935.8 1278.5,937.1 1281.5,938.3 1284.5,939.6 1287.5,940.8 1290.5,942.0 1293.5,943.3 1296.5,944.5 1299.5,945.7 1302.5,946.9 1305.5,948.1 1308.5,949.3 1311.5,950.5 1314.5,951.6 1317.5,952.8 1320.5,953.9 1323.5,955.1 1326.5,956.2 1329.5,957.3 1332.5,958.5 1335.5,959.6 1338.5,960.7 1341.5,961.7 1344.5,962.8 1347.5,963.9 1350.5,964.9 1353.5,966.0 1356.5,967.0 1359.5,968.0 1362.5,969.0 1365.5,970.1 1368.5,971.0 1371.5,972.0 1374.5,973.0 1377.5,974.0 1380.5,974.9 1383.5,975.8 1386.5,976.8 1389.5,977.7 1392.5,978.6 1395.5,979.5 1398.5,980.4 1401.5,981.2 1404.5,982.1 1407.5,982.9 1410.5,983.8 1413.5,984.6 1416.5,985.4 1419.5,986.2 1422.5,987.0 1425.5,987.7 1428.5,988.5 1431.5,989.2 1434.5,990.0 1437.5,990.7 1440.5,991.4 1443.5,992.1 1446.5,992.8 1449.5,993.4 1452.5,994.1 1455.5,994.7 1458.5,995.4 1461.5,996.0 1464.5,996.6 1467.5,997.2 1470.5,997.8 1473.5,998.4 1476.5,999.0 1479.5,999.6 1482.5,1000.1 1485.5,1000.7 1488.5,1001.2 1491.5,1001.8 1494.5,1002.3 1497.5,1002.8 1500.5,1003.4 1503.5,1003.9 1506.5,1004.4 1509.5,1004.9 1512.5,1005.4 1515.5,1005.9 1518.5,1006.4 1521.5,1006.9 1524.5,1007.4 1527.5,1007.9 1530.5,1008.4 1533.5,1008.9 1536.5,1009.4 1539.5,1009.9 1542.5,1010.4 1545.5,1010.9 1548.5,1011.4 1551.5,1011.9 1554.5,1012.4 1557.5,1012.9 1560.5,1013.4 1563.5,1014.0 1566.5,1014.5 1569.5,1015.0 1572.5,1015.5 1575.5,1016.1 1578.5,1016.6 1581.5,1017.2 1584.5,1017.7 1587.5,1018.3 1590.5,1018.8 1593.5,1019.4 1596.5,1020.0 1599.5,1020.6 1602.5,1021.2 1605.5,1021.8 1608.5,1022.4 1611.5,1023.1 1614.5,1023.7 1617.5,1024.4 1620.5,1025.0 1623.5,1025.7 1626.5,1026.4 1629.5,1027.1 1632.5,1027.8 1635.5,1028.5 1638.5,1029.3 1641.5,1030.0 1644.5,1030.8 1647.5,1031.5 1650.5,1032.3 1653.5,1033.0 1656.5,1033.8 1659.5,1034.6 1662.5,1035.3 1665.5,1036.1 1668.5,1036.9 1671.5,1037.7 1674.5,1038.4 1677.5,1039.2 1680.5,1040.0 1683.5,1040.7 1686.5,1041.5 1689.5,1042.3 1692.5,1043.0 1695.5,1043.7 1698.5,1044.5 1701.5,1045.2 1704.5,1045.9 1707.5,1046.6 1710.5,1047.3 1713.5,1048.0 1716.5,1048.7 1719.5,1049.4 1722.5,1050.0 1725.5,1050.6 1728.5,1051.3 1731.5,1051.9 1734.5,1052.5 1737.5,1053.0 1740.5,1053.6 1743.5,1054.2 1746.5,1054.7 1749.5,1055.2 1752.5,1055.8 1755.5,1056.3 1758.5,1056.8 1761.5,1057.3 1764.5,1057.8 1767.5,1058.3 1770.5,1058.7 1773.5,1059.2 1776.5,1059.7 1779.5,1060.1 1782.5,1060.5 1785.5,1061.0 1788.5,1061.4 1791.5,1061.8 1794.5,1062.3 1797.5,1062.7 1800.5,1063.1 1803.5,1063.5 1806.5,1063.9 1809.5,1064.3 1812.5,1064.7 1815.5,1065.1 1818.5,1065.5 1821.5,1065.9 1824.5,1066.3 1827.5,1066.7 1830.5,1067.1 1833.5,1067.5 1836.5,1067.9 1839.5,1068.3 1842.5,1068.7 1845.5,1069.1 1848.5,1069.5 1851.5,1069.9 1854.5,1070.3 1857.5,1070.7 1860.5,1071.1 1863.5,1071.6 1866.5,1072.0 1869.5,1072.4 1872.5,1072.8 1875.5,1073.3 1878.5,1073.7 1881.5,1074.2 1884.5,1074.6 1887.5,1075.1 1890.5,1075.6 1893.5,1076.1 1896.5,1076.5 1899.5,1077.0 1902.5,1077.6 1905.5,1078.1 1908.5,1078.6 1911.5,1079.1 1914.5,1079.7 1917.5,1080.2 1920.5,1080.8 1923.5,1081.4 1926.5,1082.0 1929.5,1082.6 1932.5,1083.2 1935.5,1083.9 1938.5,1084.5 1941.5,1085.2 1944.5,1085.9 1946.5,1086.3" stroke="#f00" stroke-width="7.2"/>
<path d="M237.5,1204.4 240.5,1205.5 243.5,1206.6 246.5,1207.7 249.5,1208.7 252.5,1209.7 255.5,1210.7 258.5,1211.6 261.5,1212.5 264.5,1213.3 267.5,1214.1 270.5,1214.9 273.5,1215.6 276.5,1216.3 279.5,1216.9 282.5,1217.5 285.5,1218.1 288.5,1218.5 291.5,1219.0 294.5,1219.3 297.5,1219.6 300.5,1219.9 303.5,1220.1 306.5,1220.2 309.5,1220.3 312.5,1220.3 315.5,1220.2 318.5,1220.1 321.5,1219.8 324.5,1219.5 327.5,1219.2 330.5,1218.7 333.5,1218.2 336.5,1217.6 339.5,1216.9 342.5,1216.1 345.5,1215.3 348.5,1214.3 351.5,1213.3 354.5,1212.2 357.5,1211.0 360.5,1209.6 363.5,1208.2 366.5,1206.7 369.5,1205.1 372.5,1203.4 375.5,1201.6 378.5,1199.7 381.5,1197.7 384.5,1195.6 387.5,1193.4 390.5,1191.2 393.5,1188.9 396.5,1186.5 399.5,1184.1 402.5,1181.7 405.5,1179.1 408.5,1176.6 411.5,1174.0 414.5,1171.3 417.5,1168.7 420.5,1166.0 423.5,1163.3 426.5,1160.5 429.5,1157.8 432.5,1155.0 435.5,1152.3 438.5,1149.6 441.5,1146.8 444.5,1144.1 447.5,1141.4 450.5,1138.7 453.5,1136.1 456.5,1133.5 459.5,1130.9 462.5,1128.4 465.5,1125.9 468.5,1123.5 471.5,1121.1 474.5,1118.8 477.5,1116.6 480.5,1114.4 483.5,1112.3 486.5,1110.2 489.5,1108.2 492.5,1106.2 495.5,1104.3 498.5,1102.4 501.5,1100.6 504.5,1098.7 507.5,1096.9 510.5,1095.1 513.5,1093.3 516.5,1091.5 519.5,1089.7 522.5,1087.9 525.5,1086.0 528.5,1084.2 531.5,1082.3 534.5,1080.3 537.5,1078.4 540.5,1076.3 543.5,1074.3 546.5,1072.1 549.5,1070.0 552.5,1067.7 555.5,1065.4 558.5,1062.9 561.5,1060.4 564.5,1057.8 567.5,1055.2 570.5,1052.4 573.5,1049.5 576.5,1046.5 579.5,1043.5 582.5,1040.3 585.5,1037.1 588.5,1033.7 591.5,1030.3 594.5,1026.8 597.5,1023.1 600.5,1019.4 603.5,1015.6 606.5,1011.7 609.5,1007.8 612.5,1003.7 615.5,999.5 618.5,995.3 621.5,991.0 624.5,986.5 627.5,982.0 630.5,977.4 633.5,972.7 636.5,967.9 639.5,963.1 642.5,958.1 645.5,953.1 648.5,948.0 651.5,942.8 654.5,937.5 657.5,932.2 660.5,926.8 663.5,921.4 666.5,915.9 669.5,910.3 672.5,904.8 675.5,899.2 678.5,893.6 681.5,888.0 684.5,882.3 687.5,876.7 690.5,871.1 693.5,865.4 696.5,859.8 699.5,854.2 702.5,848.6 705.5,843.1 708.5,837.6 711.5,832.1 714.5,826.7 717.5,821.3 720.5,816.0 723.5,810.7 726.5,805.5 729.5,800.4 732.5,795.4 735.5,790.5 738.5,785.6 741.5,780.9 744.5,776.3 747.5,771.7 750.5,767.3 753.5,763.1 756.5,758.9 759.5,754.9 762.5,751.0 765.5,747.3 768.5,743.7 771.5,740.2 774.5,737.0 777.5,733.9 780.5,730.9 783.5,728.2 786.5,725.6 789.5,723.1 792.5,720.8 795.5,718.7 798.5,716.7 801.5,714.8 804.5,713.1 807.5,711.6 810.5,710.2 813.5,708.9 816.5,707.8 819.5,706.8 822.5,705.9 825.5,705.2 828.5,704.6 831.5,704.1 834.5,703.8 837.5,703.6 840.5,703.5 843.5,703.5 846.5,703.7 849.5,703.9 852.5,704.3 855.5,704.8 858.5,705.4 861.5,706.1 864.5,706.9 867.5,707.8 870.5,708.8 873.5,709.9 876.5,711.0 879.5,712.3 882.5,713.6 885.5,715.0 888.5,716.4 891.5,718.0 894.5,719.6 897.5,721.2 900.5,722.9 903.5,724.7 906.5,726.5 909.5,728.3 912.5,730.2 915.5,732.1 918.5,734.1 921.5,736.0 924.5,738.0 927.5,740.1 930.5,742.1 933.5,744.1 936.5,746.2 939.5,748.3 942.5,750.3 945.5,752.4 948.5,754.4 951.5,756.5 954.5,758.5 957.5,760.6 960.5,762.6 963.5,764.6 966.5,766.5 969.5,768.5 972.5,770.5 975.5,772.4 978.5,774.3 981.5,776.2 984.5,778.1 987.5,780.0 990.5,781.9 993.5,783.7 996.5,785.5 999.5,787.3 1002.5,789.1 1005.5,790.9 1008.5,792.6 1011.5,794.4 1014.5,796.1 1017.5,797.8 1020.5,799.5 1023.5,801.1 1026.5,802.8 1029.5,804.4 1032.5,806.1 1035.5,807.7 1038.5,809.3 1041.5,810.9 1044.5,812.5 1047.5,814.1 1050.5,815.6 1053.5,817.2 1056.5,818.7 1059.5,820.3 1062.5,821.8 1065.5,823.3 1068.5,824.8 1071.5,826.4 1074.5,827.9 1077.5,829.4 1080.5,830.9 1083.5,832.4 1086.5,833.9 1089.5,835.3 1092.5,836.8 1095.5,838.3 1098.5,839.8 1101.5,841.3 1104.5,842.8 1107.5,844.3 1110.5,845.7 1113.5,847.2 1116.5,848.7 1119.5,850.2 1122.5,851.7 1125.5,853.2 1128.5,854.7 1131.5,856.2 1134.5,857.7 1137.5,859.3 1140.5,860.8 1143.5,862.3 1146.5,863.9 1149.5,865.4 1152.5,867.0 1155.5,868.6 1158.5,870.2 1161.5,871.7 1164.5,873.3 1167.5,874.9 1170.5,876.5 1173.5,878.1 1176.5,879.7 1179.5,881.3 1182.5,882.9 1185.5,884.5 1188.5,886.1 1191.5,887.6 1194.5,889.2 1197.5,890.8 1200.5,892.3 1203.5,893.9 1206.5,895.4 1209.5,896.9 1212.5,898.4 1215.5,899.9 1218.5,901.4 1221.5,902.8 1224.5,904.3 1227.5,905.7 1230.5,907.1 1233.5,908.4 1236.5,909.8 1239.5,911.1 1242.5,912.4 1245.5,913.7 1248.5,914.9 1251.5,916.1 1254.5,917.3 1257.5,918.5 1260.5,919.6 1263.5,920.7 1266.5,921.8 1269.5,922.9 1272.5,924.0 1275.5,925.0 1278.5,926.1 1281.5,927.1 1284.5,928.2 1287.5,929.2 1290.5,930.3 1293.5,931.4 1296.5,932.4 1299.5,933.5 1302.5,934.6 1305.5,935.7 1308.5,936.9 1311.5,938.0 1314.5,939.2 1317.5,940.3 1320.5,941.5 1323.5,942.7 1326.5,943.9 1329.5,945.1 1332.5,946.3 1335.5,947.6 1338.5,948.8 1341.5,950.1 1344.5,951.3 1347.5,952.6 1350.5,953.8 1353.5,955.1 1356.5,956.4 1359.5,957.7 1362.5,959.0 1365.5,960.2 1368.5,961.5 1371.5,962.8 1374.5,964.1 1377.5,965.4 1380.5,966.7 1383.5,967.9 1386.5,969.2 1389.5,970.5 1392.5,971.8 1395.5,973.0 1398.5,974.3 1401.5,975.6 1404.5,976.8 1407.5,978.1 1410.5,979.3 1413.5,980.5 1416.5,981.8 1419.5,983.0 1422.5,984.2 1425.5,985.4 1428.5,986.5 1431.5,987.7 1434.5,988.8 1437.5,990.0 1440.5,991.1 1443.5,992.2 1446.5,993.3 1449.5,994.4 1452.5,995.5 1455.5,996.5 1458.5,997.5 1461.5,998.5 1464.5,999.5 1467.5,1000.5 1470.5,1001.4 1473.5,1002.4 1476.5,1003.3 1479.5,1004.2 1482.5,1005.0 1485.5,1005.8 1488.5,1006.7 1491.5,1007.4 1494.5,1008.2 1497.5,1009.0 1500.5,1009.7 1503.5,1010.4 1506.5,1011.1 1509.5,1011.8 1512.5,1012.4 1515.5,1013.1 1518.5,1013.7 1521.5,1014.3 1524.5,1014.9 1527.5,1015.4 1530.5,1016.0 1533.5,1016.6 1536.5,1017.1 1539.5,1017.6 1542.5,1018.1 1545.5,1018.6 1548.5,1019.1 1551.5,1019.6 1554.5,1020.0 1557.5,1020.5 1560.5,1020.9 1563.5,1021.4 1566.5,1021.8 1569.5,1022.2 1572.5,1022.7 1575.5,1023.1 1578.5,1023.5 1581.5,1023.9 1584.5,1024.3 1587.5,1024.7 1590.5,1025.1 1593.5,1025.5 1596.5,1025.9 1599.5,1026.2 1602.5,1026.6 1605.5,1027.0 1608.5,1027.4 1611.5,1027.8 1614.5,1028.2 1617.5,1028.6 1620.5,1029.0 1623.5,1029.4 1626.5,1029.8 1629.5,1030.2 1632.5,1030.6 1635.5,1031.0 1638.5,1031.4 1641.5,1031.9 1644.5,1032.3 1647.5,1032.7 1650.5,1033.2 1653.5,1033.6 1656.5,1034.0 1659.5,1034.5 1662.5,1034.9 1665.5,1035.4 1668.5,1035.8 1671.5,1036.3 1674.5,1036.7 1677.5,1037.2 1680.5,1037.7 1683.5,1038.1 1686.5,1038.6 1689.5,1039.1 1692.5,1039.6 1695.5,1040.1 1698.5,1040.5 1701.5,1041.0 1704.5,1041.5 1707.5,1042.0 1710.5,1042.5 1713.5,1043.0 1716.5,1043.5 1719.5,1044.0 1722.5,1044.5 1725.5,1045.0 1728.5,1045.6 1731.5,1046.1 1734.5,1046.6 1737.5,1047.1 1740.5,1047.6 1743.5,1048.2 1746.5,1048.7 1749.5,1049.2 1752.5,1049.7 1755.5,1050.3 1758.5,1050.8 1761.5,1051.4 1764.5,1051.9 1767.5,1052.4 1770.5,1053.0 1773.5,1053.5 1776.5,1054.1 1779.5,1054.6 1782.5,1055.2 1785.5,1055.7 1788.5,1056.3 1791.5,1056.9 1794.5,1057.4 1797.5,1058.0 1800.5,1058.6 1803.5,1059.1 1806.5,1059.7 1809.5,1060.3 1812.5,1060.8 1815.5,1061.4 1818.5,1062.0 1821.5,1062.5 1824.5,1063.1 1827.5,1063.6 1830.5,1064.2 1833.5,1064.8 1836.5,1065.3 1839.5,1065.8 1842.5,1066.4 1845.5,1066.9 1848.5,1067.4 1851.5,1067.9 1854.5,1068.5 1857.5,1069.0 1860.5,1069.4 1863.5,1069.9 1866.5,1070.4 1869.5,1070.9 1872.5,1071.3 1875.5,1071.7 1878.5,1072.2 1881.5,1072.6 1884.5,1073.0 1887.5,1073.4 1890.5,1073.7 1893.5,1074.1 1896.5,1074.4 1899.5,1074.8 1902.5,1075.1 1905.5,1075.3 1908.5,1075.6 1911.5,1075.9 1914.5,1076.1 1917.5,1076.3 1920.5,1076.5 1923.5,1076.7 1926.5,1076.8 1929.5,1077.0 1932.5,1077.1 1935.5,1077.1 1938.5,1077.2 1941.5,1077.2 1944.5,1077.2 1946.5,1077.2" stroke="#00f" stroke-width="12.5" stroke-opacity="0.40"/>
<path d="M237.5,1204.4 240.5,1205.5 243.5,1206.6 246.5,1207.7 249.5,1208.7 252.5,1209.7 255.5,1210.7 258.5,1211.6 261.5,1212.5 264.5,1213.3 267.5,1214.1 270.5,1214.9 273.5,1215.6 276.5,1216.3 279.5,1216.9 282.5,1217.5 285.5,1218.1 288.5,1218.5 291.5,1219.0 294.5,1219.3 297.5,1219.6 300.5,1219.9 303.5,1220.1 306.5,1220.2 309.5,1220.3 312.5,1220.3 315.5,1220.2 318.5,1220.1 321.5,1219.8 324.5,1219.5 327.5,1219.2 330.5,1218.7 333.5,1218.2 336.5,1217.6 339.5,1216.9 342.5,1216.1 345.5,1215.3 348.5,1214.3 351.5,1213.3 354.5,1212.2 357.5,1211.0 360.5,1209.6 363.5,1208.2 366.5,1206.7 369.5,1205.1 372.5,1203.4 375.5,1201.6 378.5,1199.7 381.5,1197.7 384.5,1195.6 387.5,1193.4 390.5,1191.2 393.5,1188.9 396.5,1186.5 399.5,1184.1 402.5,1181.7 405.5,1179.1 408.5,1176.6 411.5,1174.0 414.5,1171.3 417.5,1168.7 420.5,1166.0 423.5,1163.3 426.5,1160.5 429.5,1157.8 432.5,1155.0 435.5,1152.3 438.5,1149.6 441.5,1146.8 444.5,1144.1 447.5,1141.4 450.5,1138.7 453.5,1136.1 456.5,1133.5 459.5,1130.9 462.5,1128.4 465.5,1125.9 468.5,1123.5 471.5,1121.1 474.5,1118.8 477.5,1116.6 480.5,1114.4 483.5,1112.3 486.5,1110.2 489.5,1108.2 492.5,1106.2 495.5,1104.3 498.5,1102.4 501.5,1100.6 504.5,1098.7 507.5,1096.9 510.5,1095.1 513.5,1093.3 516.5,1091.5 519.5,1089.7 522.5,1087.9 525.5,1086.0 528.5,1084.2 531.5,1082.3 534.5,1080.3 537.5,1078.4 540.5,1076.3 543.5,1074.3 546.5,1072.1 549.5,1070.0 552.5,1067.7 555.5,1065.4 558.5,1062.9 561.5,1060.4 564.5,1057.8 567.5,1055.2 570.5,1052.4 573.5,1049.5 576.5,1046.5 579.5,1043.5 582.5,1040.3 585.5,1037.1 588.5,1033.7 591.5,1030.3 594.5,1026.8 597.5,1023.1 600.5,1019.4 603.5,1015.6 606.5,1011.7 609.5,1007.8 612.5,1003.7 615.5,999.5 618.5,995.3 621.5,991.0 624.5,986.5 627.5,982.0 630.5,977.4 633.5,972.7 636.5,967.9 639.5,963.1 642.5,958.1 645.5,953.1 648.5,948.0 651.5,942.8 654.5,937.5 657.5,932.2 660.5,926.8 663.5,921.4 666.5,915.9 669.5,910.3 672.5,904.8 675.5,899.2 678.5,893.6 681.5,888.0 684.5,882.3 687.5,876.7 690.5,871.1 693.5,865.4 696.5,859.8 699.5,854.2 702.5,848.6 705.5,843.1 708.5,837.6 711.5,832.1 714.5,826.7 717.5,821.3 720.5,816.0 723.5,810.7 726.5,805.5 729.5,800.4 732.5,795.4 735.5,790.5 738.5,785.6 741.5,780.9 744.5,776.3 747.5,771.7 750.5,767.3 753.5,763.1 756.5,758.9 759.5,754.9 762.5,751.0 765.5,747.3 768.5,743.7 771.5,740.2 774.5,737.0 777.5,733.9 780.5,730.9 783.5,728.2 786.5,725.6 789.5,723.1 792.5,720.8 795.5,718.7 798.5,716.7 801.5,714.8 804.5,713.1 807.5,711.6 810.5,710.2 813.5,708.9 816.5,707.8 819.5,706.8 822.5,705.9 825.5,705.2 828.5,704.6 831.5,704.1 834.5,703.8 837.5,703.6 840.5,703.5 843.5,703.5 846.5,703.7 849.5,703.9 852.5,704.3 855.5,704.8 858.5,705.4 861.5,706.1 864.5,706.9 867.5,707.8 870.5,708.8 873.5,709.9 876.5,711.0 879.5,712.3 882.5,713.6 885.5,715.0 888.5,716.4 891.5,718.0 894.5,719.6 897.5,721.2 900.5,722.9 903.5,724.7 906.5,726.5 909.5,728.3 912.5,730.2 915.5,732.1 918.5,734.1 921.5,736.0 924.5,738.0 927.5,740.1 930.5,742.1 933.5,744.1 936.5,746.2 939.5,748.3 942.5,750.3 945.5,752.4 948.5,754.4 951.5,756.5 954.5,758.5 957.5,760.6 960.5,762.6 963.5,764.6 966.5,766.5 969.5,768.5 972.5,770.5 975.5,772.4 978.5,774.3 981.5,776.2 984.5,778.1 987.5,780.0 990.5,781.9 993.5,783.7 996.5,785.5 999.5,787.3 1002.5,789.1 1005.5,790.9 1008.5,792.6 1011.5,794.4 1014.5,796.1 1017.5,797.8 1020.5,799.5 1023.5,801.1 1026.5,802.8 1029.5,804.4 1032.5,806.1 1035.5,807.7 1038.5,809.3 1041.5,810.9 1044.5,812.5 1047.5,814.1 1050.5,815.6 1053.5,817.2 1056.5,818.7 1059.5,820.3 1062.5,821.8 1065.5,823.3 1068.5,824.8 1071.5,826.4 1074.5,827.9 1077.5,829.4 1080.5,830.9 1083.5,832.4 1086.5,833.9 1089.5,835.3 1092.5,836.8 1095.5,838.3 1098.5,839.8 1101.5,841.3 1104.5,842.8 1107.5,844.3 1110.5,845.7 1113.5,847.2 1116.5,848.7 1119.5,850.2 1122.5,851.7 1125.5,853.2 1128.5,854.7 1131.5,856.2 1134.5,857.7 1137.5,859.3 1140.5,860.8 1143.5,862.3 1146.5,863.9 1149.5,865.4 1152.5,867.0 1155.5,868.6 1158.5,870.2 1161.5,871.7 1164.5,873.3 1167.5,874.9 1170.5,876.5 1173.5,878.1 1176.5,879.7 1179.5,881.3 1182.5,882.9 1185.5,884.5 1188.5,886.1 1191.5,887.6 1194.5,889.2 1197.5,890.8 1200.5,892.3 1203.5,893.9 1206.5,895.4 1209.5,896.9 1212.5,898.4 1215.5,899.9 1218.5,901.4 1221.5,902.8 1224.5,904.3 1227.5,905.7 1230.5,907.1 1233.5,908.4 1236.5,909.8 1239.5,911.1 1242.5,912.4 1245.5,913.7 1248.5,914.9 1251.5,916.1 1254.5,917.3 1257.5,918.5 1260.5,919.6 1263.5,920.7 1266.5,921.8 1269.5,922.9 1272.5,924.0 1275.5,925.0 1278.5,926.1 1281.5,927.1 1284.5,928.2 1287.5,929.2 1290.5,930.3 1293.5,931.4 1296.5,932.4 1299.5,933.5 1302.5,934.6 1305.5,935.7 1308.5,936.9 1311.5,938.0 1314.5,939.2 1317.5,940.3 1320.5,941.5 1323.5,942.7 1326.5,943.9 1329.5,945.1 1332.5,946.3 1335.5,947.6 1338.5,948.8 1341.5,950.1 1344.5,951.3 1347.5,952.6 1350.5,953.8 1353.5,955.1 1356.5,956.4 1359.5,957.7 1362.5,959.0 1365.5,960.2 1368.5,961.5 1371.5,962.8 1374.5,964.1 1377.5,965.4 1380.5,966.7 1383.5,967.9 1386.5,969.2 1389.5,970.5 1392.5,971.8 1395.5,973.0 1398.5,974.3 1401.5,975.6 1404.5,976.8 1407.5,978.1 1410.5,979.3 1413.5,980.5 1416.5,981.8 1419.5,983.0 1422.5,984.2 1425.5,985.4 1428.5,986.5 1431.5,987.7 1434.5,988.8 1437.5,990.0 1440.5,991.1 1443.5,992.2 1446.5,993.3 1449.5,994.4 1452.5,995.5 1455.5,996.5 1458.5,997.5 1461.5,998.5 1464.5,999.5 1467.5,1000.5 1470.5,1001.4 1473.5,1002.4 1476.5,1003.3 1479.5,1004.2 1482.5,1005.0 1485.5,1005.8 1488.5,1006.7 1491.5,1007.4 1494.5,1008.2 1497.5,1009.0 1500.5,1009.7 1503.5,1010.4 1506.5,1011.1 1509.5,1011.8 1512.5,1012.4 1515.5,1013.1 1518.5,1013.7 1521.5,1014.3 1524.5,1014.9 1527.5,1015.4 1530.5,1016.0 1533.5,1016.6 1536.5,1017.1 1539.5,1017.6 1542.5,1018.1 1545.5,1018.6 1548.5,1019.1 1551.5,1019.6 1554.5,1020.0 1557.5,1020.5 1560.5,1020.9 1563.5,1021.4 1566.5,1021.8 1569.5,1022.2 1572.5,1022.7 1575.5,1023.1 1578.5,1023.5 1581.5,1023.9 1584.5,1024.3 1587.5,1024.7 1590.5,1025.1 1593.5,1025.5 1596.5,1025.9 1599.5,1026.2 1602.5,1026.6 1605.5,1027.0 1608.5,1027.4 1611.5,1027.8 1614.5,1028.2 1617.5,1028.6 1620.5,1029.0 1623.5,1029.4 1626.5,1029.8 1629.5,1030.2 1632.5,1030.6 1635.5,1031.0 1638.5,1031.4 1641.5,1031.9 1644.5,1032.3 1647.5,1032.7 1650.5,1033.2 1653.5,1033.6 1656.5,1034.0 1659.5,1034.5 1662.5,1034.9 1665.5,1035.4 1668.5,1035.8 1671.5,1036.3 1674.5,1036.7 1677.5,1037.2 1680.5,1037.7 1683.5,1038.1 1686.5,1038.6 1689.5,1039.1 1692.5,1039.6 1695.5,1040.1 1698.5,1040.5 1701.5,1041.0 1704.5,1041.5 1707.5,1042.0 1710.5,1042.5 1713.5,1043.0 1716.5,1043.5 1719.5,1044.0 1722.5,1044.5 1725.5,1045.0 1728.5,1045.6 1731.5,1046.1 1734.5,1046.6 1737.5,1047.1 1740.5,1047.6 1743.5,1048.2 1746.5,1048.7 1749.5,1049.2 1752.5,1049.7 1755.5,1050.3 1758.5,1050.8 1761.5,1051.4 1764.5,1051.9 1767.5,1052.4 1770.5,1053.0 1773.5,1053.5 1776.5,1054.1 1779.5,1054.6 1782.5,1055.2 1785.5,1055.7 1788.5,1056.3 1791.5,1056.9 1794.5,1057.4 1797.5,1058.0 1800.5,1058.6 1803.5,1059.1 1806.5,1059.7 1809.5,1060.3 1812.5,1060.8 1815.5,1061.4 1818.5,1062.0 1821.5,1062.5 1824.5,1063.1 1827.5,1063.6 1830.5,1064.2 1833.5,1064.8 1836.5,1065.3 1839.5,1065.8 1842.5,1066.4 1845.5,1066.9 1848.5,1067.4 1851.5,1067.9 1854.5,1068.5 1857.5,1069.0 1860.5,1069.4 1863.5,1069.9 1866.5,1070.4 1869.5,1070.9 1872.5,1071.3 1875.5,1071.7 1878.5,1072.2 1881.5,1072.6 1884.5,1073.0 1887.5,1073.4 1890.5,1073.7 1893.5,1074.1 1896.5,1074.4 1899.5,1074.8 1902.5,1075.1 1905.5,1075.3 1908.5,1075.6 1911.5,1075.9 1914.5,1076.1 1917.5,1076.3 1920.5,1076.5 1923.5,1076.7 1926.5,1076.8 1929.5,1077.0 1932.5,1077.1 1935.5,1077.1 1938.5,1077.2 1941.5,1077.2 1944.5,1077.2 1946.5,1077.2" stroke="#00f" stroke-width="7.2"/>
<path d="M237.4,502.6L250.2,554.2M257.6,599.7L269.3,649.0M278.8,692.4L290.6,739.9M300.6,784.6L311.6,832.4M321.3,876.6L335.0,923.1M347.1,966.2L359.5,1010.3M372.8,1057.0L387.9,1103.5M403.8,1146.1L425.3,1189.2M442.0,1226.4L472.6,1266.3M514.1,1303.3L536.0,1301.0L558.6,1298.1M590.8,1256.4L614.4,1212.4M627.9,1170.9L645.4,1124.0M659.1,1081.4L672.7,1033.7M684.6,989.3L701.1,945.4M711.7,899.8L728.0,852.1M742.6,809.9L757.8,766.1M778.7,723.9L802.2,685.4M843.9,648.6L885.5,662.5M917.2,692.8L949.4,734.0M978.1,766.6L1006.9,805.0M1045.0,834.7L1087.3,863.2M1124.8,887.5L1169.5,914.7M1208.1,934.4L1254.2,957.4M1296.4,973.8L1345.3,991.9M1386.6,1003.5L1438.9,1015.0M1481.1,1024.8L1532.5,1033.4M1573.5,1040.2L1625.5,1047.9M1668.5,1055.3L1722.0,1060.2M1762.4,1064.8L1814.4,1073.9M1859.0,1075.9L1910.1,1084.0" stroke="#000" stroke-width="12.5" stroke-opacity="0.40"/>
<path d="M238.0,505.0L249.6,551.8M258.2,602.1L268.7,646.6M279.4,694.8L290.0,737.5M301.2,787.0L311.0,830.0M322.0,879.0L334.3,920.7M347.8,968.6L358.8,1007.9M373.6,1059.4L387.1,1101.1M404.9,1148.3L424.2,1187.0M443.5,1228.4L471.1,1264.3M516.6,1303.0L536.0,1301.0L556.1,1298.4M592.0,1254.2L613.2,1214.6M628.8,1168.6L644.5,1126.3M659.8,1079.0L672.0,1036.1M685.5,987.0L700.2,947.7M712.5,897.4L727.2,854.5M743.4,807.5L757.0,768.5M780.0,721.8L800.9,687.5M846.3,649.4L883.1,661.7M918.7,694.8L947.9,732.0M979.6,768.6L1005.4,803.0M1047.1,836.1L1085.2,861.8M1126.9,888.8L1167.4,913.4M1210.3,935.5L1252.0,956.3M1298.7,974.7L1343.0,991.0M1389.0,1004.0L1436.5,1014.5M1483.6,1025.2L1530.0,1033.0M1576.0,1040.6L1623.0,1047.5M1671.0,1055.5L1719.5,1060.0M1764.9,1065.2L1811.9,1073.5M1861.5,1076.3L1907.6,1083.6" stroke="#000" stroke-width="7.2"/>
<path d="M237.4,987.4L251.5,934.3M262.3,892.5L278.7,843.5M290.5,801.7L307.2,753.6M319.8,712.4L340.8,665.7M357.5,626.9L382.8,584.9M428.1,557.5L465.4,589.6M488.1,640.3L503.9,680.3M515.1,721.6L531.4,770.1M542.5,812.5L552.3,861.5M566.1,904.5L574.4,954.0M585.0,996.0L594.5,1045.9M603.9,1086.1L617.1,1137.9M628.1,1180.9L641.5,1228.1M653.4,1270.4L676.1,1311.6M709.8,1301.6L728.2,1252.8M736.9,1210.7L746.2,1162.4M752.6,1115.9L760.8,1067.9M766.2,1023.8L771.7,974.7M778.3,929.4L783.8,878.7M790.7,837.3L796.3,786.5M801.1,742.5L804.1,689.5M814.1,649.5L820.8,600.3M827.5,556.2L835.6,505.8M841.9,462.4L854.7,415.9M865.0,376.6L903.6,352.0M931.1,397.6L951.6,444.3M969.9,486.7L990.5,530.3M1011.3,570.1L1038.8,608.5M1065.2,643.8L1095.2,683.3M1126.5,717.5L1157.9,755.6M1185.3,788.8L1219.4,825.6M1254.9,855.5L1297.0,885.3M1335.8,907.7L1380.2,933.8M1418.6,955.1L1470.4,973.9M1513.5,981.3L1565.5,986.2M1607.1,992.4L1656.4,1009.8M1696.5,1020.0L1750.8,1030.8M1792.8,1033.6L1845.6,1042.6M1885.7,1046.4L1938.6,1055.5" stroke="#f00" stroke-width="12.5" stroke-opacity="0.40"/>
<path d="M238.0,985.0L250.9,936.7M263.1,890.1L277.9,845.9M291.3,799.3L306.4,756.0M320.8,710.1L339.8,668.0M358.8,624.8L381.5,587.0M430.0,559.1L463.5,588.0M489.0,642.6L503.0,678.0M515.9,724.0L530.6,767.7M543.0,815.0L551.8,859.0M566.5,907.0L574.0,951.5M585.5,998.5L594.0,1043.4M604.5,1088.5L616.5,1135.5M628.8,1183.3L640.8,1225.7M654.6,1272.6L674.9,1309.4M710.7,1299.3L727.3,1255.1M737.4,1208.2L745.7,1164.9M753.0,1113.4L760.4,1070.4M766.5,1021.3L771.4,977.2M778.6,926.9L783.5,881.2M791.0,834.8L796.0,789.0M801.2,740.0L804.0,692.0M814.4,647.0L820.5,602.8M827.9,553.7L835.2,508.3M842.6,460.0L854.0,418.3M867.1,375.3L901.5,353.3M932.1,399.9L950.6,442.0M971.0,489.0L989.4,528.0M1012.8,572.1L1037.3,606.5M1066.7,645.8L1093.7,681.3M1128.1,719.4L1156.3,753.7M1187.0,790.6L1217.7,823.8M1256.9,856.9L1295.0,883.9M1338.0,909.0L1378.0,932.5M1421.0,956.0L1468.0,973.0M1516.0,981.5L1563.0,986.0M1609.5,993.2L1654.0,1009.0M1699.0,1020.5L1748.3,1030.3M1795.3,1034.0L1843.1,1042.2M1888.2,1046.8L1936.1,1055.1" stroke="#f00" stroke-width="7.2"/>
<path d="M236.3,1039.8L271.0,1002.4M299.7,968.1L330.9,926.1M354.0,886.1L378.4,842.5M396.0,801.6L416.5,756.7M437.1,715.9L459.4,674.3M484.5,639.3L523.4,607.4M558.7,587.0L588.6,543.9M608.6,500.6L623.5,452.8M637.0,409.6L650.7,363.1M661.6,317.6L673.9,271.1M686.1,229.3L698.4,179.1M715.0,138.3L738.3,97.1M779.3,84.1L816.3,116.9M851.2,150.0L902.6,167.5M947.1,168.1L989.2,188.7M1022.3,218.7L1053.5,262.0M1075.5,300.7L1098.5,349.4M1111.9,385.7L1136.1,436.3M1152.9,475.4L1172.0,520.5M1189.6,563.7L1209.0,605.1M1229.8,647.3L1255.9,685.9M1280.9,722.5L1315.2,756.8M1348.0,788.5L1391.5,821.0M1432.1,842.6L1479.8,859.0M1524.1,862.5L1574.3,874.7M1611.6,892.2L1651.2,922.2M1687.4,948.1L1732.6,977.9M1775.4,991.8L1828.1,1007.9M1870.1,1010.6L1922.9,1017.7" stroke="#00f" stroke-width="12.5" stroke-opacity="0.40"/>
<path d="M238.0,1038.0L269.3,1004.2M301.2,966.1L329.4,928.1M355.2,883.9L377.2,844.7M397.0,799.3L415.5,759.0M438.3,713.7L458.2,676.5M486.4,637.7L521.5,609.0M560.1,584.9L587.2,546.0M609.3,498.2L622.8,455.2M637.7,407.2L650.0,365.5M662.2,315.2L673.3,273.5M686.7,226.9L697.8,181.5M716.2,136.1L737.1,99.3M781.2,85.8L814.4,115.2M853.6,150.8L900.2,166.7M949.3,169.2L987.0,187.6M1023.8,220.7L1052.0,260.0M1076.6,303.0L1097.4,347.1M1113.0,388.0L1135.0,434.0M1153.9,477.7L1171.0,518.2M1190.7,566.0L1207.9,602.8M1231.2,649.4L1254.5,683.8M1282.7,724.3L1313.4,755.0M1350.0,790.0L1389.5,819.5M1434.5,843.4L1477.4,858.2M1526.5,863.1L1571.9,874.1M1613.6,893.7L1649.2,920.7M1689.5,949.5L1730.5,976.5M1777.8,992.5L1825.7,1007.2M1872.6,1010.9L1920.4,1017.4" stroke="#00f" stroke-width="7.2"/>
</g>
<rect x="1115.5" y="40.0" width="822.0" height="388.0" fill="#fff"/>
<path d="M1121.5,76.4L1250.5,76.4" stroke="#000" stroke-width="12.5" stroke-opacity="0.40" fill="none"/>
<path d="M1124.0,76.4L1248.0,76.4" stroke="#000" stroke-width="7.2" fill="none"/>
<path d="M1121.5,138.5L1250.5,138.5" stroke="#f00" stroke-width="12.5" stroke-opacity="0.40" fill="none"/>
<path d="M1124.0,138.5L1248.0,138.5" stroke="#f00" stroke-width="7.2" fill="none"/>
<path d="M1121.5,202.3L1250.5,202.3" stroke="#00f" stroke-width="12.5" stroke-opacity="0.40" fill="none"/>
<path d="M1124.0,202.3L1248.0,202.3" stroke="#00f" stroke-width="7.2" fill="none"/>
<path d="M1121.5,266.1L1175.0,266.1M1217.5,266.1L1250.5,266.1" stroke="#000" stroke-width="12.5" stroke-opacity="0.40" fill="none"/>
<path d="M1124.0,266.1L1172.5,266.1M1220.0,266.1L1248.0,266.1" stroke="#000" stroke-width="7.2" fill="none"/>
<path d="M1121.5,328.5L1175.0,328.5M1217.5,328.5L1250.5,328.5" stroke="#f00" stroke-width="12.5" stroke-opacity="0.40" fill="none"/>
<path d="M1124.0,328.5L1172.5,328.5M1220.0,328.5L1248.0,328.5" stroke="#f00" stroke-width="7.2" fill="none"/>
<path d="M1121.5,392.5L1175.0,392.5M1217.5,392.5L1250.5,392.5" stroke="#00f" stroke-width="12.5" stroke-opacity="0.40" fill="none"/>
<path d="M1124.0,392.5L1172.5,392.5M1220.0,392.5L1248.0,392.5" stroke="#00f" stroke-width="7.2" fill="none"/>
<text x="1256.0" y="90.0" font-size="52.0" textLength="300.0" lengthAdjust="spacingAndGlyphs" fill="#2a2a2a">Simulation of</text>
<text x="1578.0" y="87.0" font-size="52.0" textLength="331.0" lengthAdjust="spacingAndGlyphs" fill="#111">Hypoglycemia</text>
<text x="1256.0" y="153.5" font-size="52.0" textLength="300.0" lengthAdjust="spacingAndGlyphs" fill="#2a2a2a">Simulation of</text>
<text x="1585.0" y="153.5" font-size="52.0" textLength="314.0" lengthAdjust="spacingAndGlyphs" fill="#2a2a2a">Normal Blood</text>
<text x="1256.0" y="218.0" font-size="52.0" textLength="300.0" lengthAdjust="spacingAndGlyphs" fill="#2a2a2a">Simulation of</text>
<text x="1569.5" y="218.0" font-size="52.0" textLength="341.0" lengthAdjust="spacingAndGlyphs" fill="#2a2a2a">Hyperglycemia</text>
<text x="1256.0" y="280.4" font-size="52.0" textLength="317.0" lengthAdjust="spacingAndGlyphs" fill="#2a2a2a">Calculation of</text>
<text x="1587.0" y="287.3" font-size="52.0" textLength="332.0" lengthAdjust="spacingAndGlyphs" fill="#111">Hypoglycemia</text>
<text x="1256.0" y="344.4" font-size="52.0" textLength="317.0" lengthAdjust="spacingAndGlyphs" fill="#2a2a2a">Calculation of</text>
<text x="1600.5" y="344.4" font-size="52.0" textLength="313.0" lengthAdjust="spacingAndGlyphs" fill="#2a2a2a">Normal Blood</text>
<text x="1256.0" y="408.4" font-size="52.0" textLength="317.0" lengthAdjust="spacingAndGlyphs" fill="#2a2a2a">Calculation of</text>
<text x="1585.0" y="408.4" font-size="52.0" textLength="341.0" lengthAdjust="spacingAndGlyphs" fill="#2a2a2a">Hyperglycemia</text>
<path d="M238.0,32.0H1946.0V1396.0H238.0ZM225.0,1396.0H238.0M209.0,1282.3H238.0M225.0,1168.7H238.0M209.0,1055.0H238.0M225.0,941.3H238.0M209.0,827.7H238.0M225.0,714.0H238.0M209.0,600.3H238.0M225.0,486.7H238.0M209.0,373.0H238.0M225.0,259.3H238.0M209.0,145.7H238.0M225.0,32.0H238.0M238.0,1396.0V1426.0M360.0,1396.0V1410.0M482.0,1396.0V1426.0M604.0,1396.0V1410.0M726.0,1396.0V1426.0M848.0,1396.0V1410.0M970.0,1396.0V1426.0M1092.0,1396.0V1410.0M1214.0,1396.0V1426.0M1336.0,1396.0V1410.0M1458.0,1396.0V1426.0M1580.0,1396.0V1410.0M1702.0,1396.0V1426.0M1824.0,1396.0V1410.0M1946.0,1396.0V1426.0" fill="none" stroke="#8e8e8e" stroke-width="10.0" stroke-linecap="butt" stroke-linejoin="miter"/>
<path d="M238.0,32.0H1946.0V1396.0H238.0ZM225.0,1396.0H238.0M209.0,1282.3H238.0M225.0,1168.7H238.0M209.0,1055.0H238.0M225.0,941.3H238.0M209.0,827.7H238.0M225.0,714.0H238.0M209.0,600.3H238.0M225.0,486.7H238.0M209.0,373.0H238.0M225.0,259.3H238.0M209.0,145.7H238.0M225.0,32.0H238.0M238.0,1396.0V1426.0M360.0,1396.0V1410.0M482.0,1396.0V1426.0M604.0,1396.0V1410.0M726.0,1396.0V1426.0M848.0,1396.0V1410.0M970.0,1396.0V1426.0M1092.0,1396.0V1410.0M1214.0,1396.0V1426.0M1336.0,1396.0V1410.0M1458.0,1396.0V1426.0M1580.0,1396.0V1410.0M1702.0,1396.0V1426.0M1824.0,1396.0V1410.0M1946.0,1396.0V1426.0" fill="none" stroke="#000" stroke-width="3.8" stroke-linecap="butt" stroke-linejoin="miter"/>
<text x="193.5" y="1301.0" font-size="62.0" textLength="81.0" lengthAdjust="spacingAndGlyphs" text-anchor="end" fill="#111">0.0</text>
<text x="193.5" y="1073.7" font-size="62.0" textLength="81.0" lengthAdjust="spacingAndGlyphs" text-anchor="end" fill="#111">0.2</text>
<text x="193.5" y="846.4" font-size="62.0" textLength="81.0" lengthAdjust="spacingAndGlyphs" text-anchor="end" fill="#111">0.4</text>
<text x="193.5" y="619.0" font-size="62.0" textLength="81.0" lengthAdjust="spacingAndGlyphs" text-anchor="end" fill="#111">0.6</text>
<text x="193.5" y="391.7" font-size="62.0" textLength="81.0" lengthAdjust="spacingAndGlyphs" text-anchor="end" fill="#111">0.8</text>
<text x="193.5" y="164.4" font-size="62.0" textLength="81.0" lengthAdjust="spacingAndGlyphs" text-anchor="end" fill="#111">1.0</text>
<text x="238.5" y="1487.5" font-size="62.0" textLength="99.0" lengthAdjust="spacingAndGlyphs" text-anchor="middle" fill="#111">300</text>
<text x="482.5" y="1487.5" font-size="62.0" textLength="99.0" lengthAdjust="spacingAndGlyphs" text-anchor="middle" fill="#111">400</text>
<text x="726.5" y="1487.5" font-size="62.0" textLength="99.0" lengthAdjust="spacingAndGlyphs" text-anchor="middle" fill="#111">500</text>
<text x="970.5" y="1487.5" font-size="62.0" textLength="99.0" lengthAdjust="spacingAndGlyphs" text-anchor="middle" fill="#111">600</text>
<text x="1214.5" y="1487.5" font-size="62.0" textLength="99.0" lengthAdjust="spacingAndGlyphs" text-anchor="middle" fill="#111">700</text>
<text x="1458.5" y="1487.5" font-size="62.0" textLength="99.0" lengthAdjust="spacingAndGlyphs" text-anchor="middle" fill="#111">800</text>
<text x="1702.5" y="1487.5" font-size="62.0" textLength="99.0" lengthAdjust="spacingAndGlyphs" text-anchor="middle" fill="#111">900</text>
<text x="1949.5" y="1487.5" font-size="62.0" textLength="132.0" lengthAdjust="spacingAndGlyphs" text-anchor="middle" fill="#111">1000</text>
<text x="819.0" y="1596.4" font-size="74.5" textLength="548.0" lengthAdjust="spacingAndGlyphs" fill="#111">Wavelength (nm)</text>
<text transform="translate(81.0,1019.5) rotate(-90)" x="0" y="0" font-size="76.0" textLength="615.0" lengthAdjust="spacingAndGlyphs" fill="#111">Transmittance (a.u)</text>
</svg></body></html>
